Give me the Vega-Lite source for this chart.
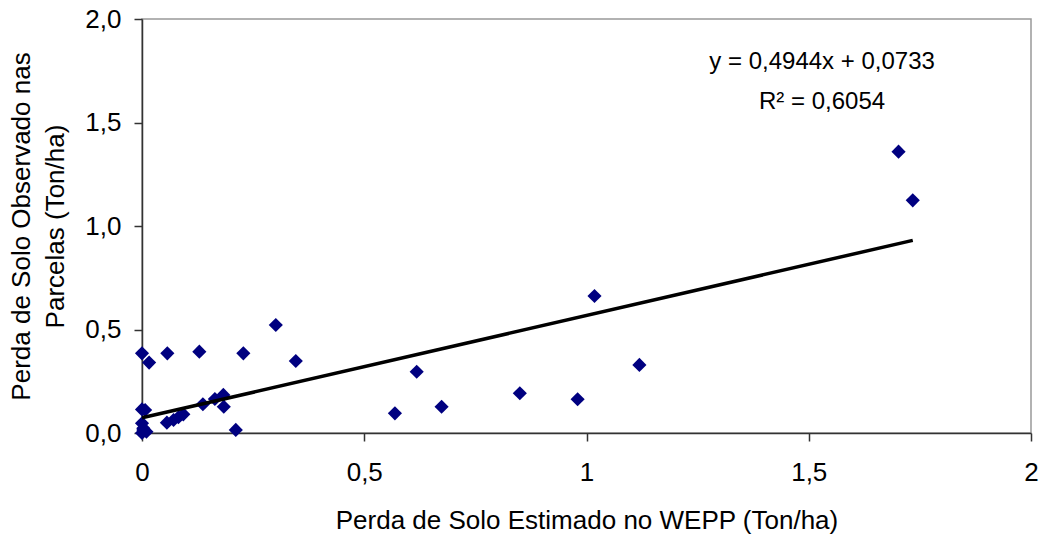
{
  "$schema": "https://vega.github.io/schema/vega-lite/v6.json",
  "autosize": "none",
  "width": 889,
  "height": 414,
  "padding": {"left": 142, "top": 19, "right": 9, "bottom": 103},
  "background": "white",
  "config": {
    "font": "Liberation Sans",
    "view": {"stroke": "#999999", "strokeWidth": 1.5},
    "axis": {
      "grid": false,
      "labelFlush": false,
      "labelOverlap": false,
      "domainColor": "#333333",
      "domainWidth": 1.5,
      "tickColor": "#333333",
      "tickWidth": 1.5,
      "tickSize": 8,
      "labelFont": "Liberation Sans",
      "labelFontSize": 26,
      "labelColor": "#000000",
      "titleFont": "Liberation Sans",
      "titleFontSize": 26,
      "titleFontWeight": "normal",
      "titleColor": "#000000"
    }
  },
  "layer": [
    {
      "data": {
        "values": [
          {"est": 0, "obs": 0.385}, {"est": 0.016, "obs": 0.34}, {"est": 0.057, "obs": 0.385},
          {"est": 0.129, "obs": 0.393}, {"est": 0.228, "obs": 0.385}, {"est": 0.301, "obs": 0.522},
          {"est": 0.346, "obs": 0.348}, {"est": 0.618, "obs": 0.296}, {"est": 0.569, "obs": 0.095},
          {"est": 0.674, "obs": 0.127}, {"est": 0.85, "obs": 0.192}, {"est": 0.98, "obs": 0.163},
          {"est": 1.018, "obs": 0.662}, {"est": 1.119, "obs": 0.329}, {"est": 1.702, "obs": 1.359},
          {"est": 1.734, "obs": 1.124}, {"est": 0, "obs": 0.114}, {"est": 0.007, "obs": 0.111},
          {"est": 0, "obs": 0.047}, {"est": 0.003, "obs": 0.014}, {"est": 0.01, "obs": 0.006},
          {"est": 0, "obs": 0}, {"est": 0.003, "obs": 0.023}, {"est": 0.056, "obs": 0.05},
          {"est": 0.071, "obs": 0.063}, {"est": 0.082, "obs": 0.076}, {"est": 0.093, "obs": 0.09},
          {"est": 0.137, "obs": 0.139}, {"est": 0.164, "obs": 0.164}, {"est": 0.183, "obs": 0.184},
          {"est": 0.184, "obs": 0.127}, {"est": 0.211, "obs": 0.015}
        ]
      },
      "mark": {"type": "point", "shape": "diamond", "filled": true, "color": "#000080", "opacity": 1, "size": 200},
      "encoding": {
        "x": {
          "field": "est", "type": "quantitative",
          "scale": {"domain": [0, 2], "nice": false, "zero": true},
          "axis": {
            "values": [0, 0.5, 1, 1.5, 2],
            "labelExpr": "replace(format(datum.value, '~g'), '.', ',')",
            "labelPadding": 18,
            "title": "Perda de Solo Estimado no WEPP (Ton/ha)",
            "titlePadding": 22
          }
        },
        "y": {
          "field": "obs", "type": "quantitative",
          "scale": {"domain": [0, 2], "nice": false, "zero": true},
          "axis": {
            "values": [0, 0.5, 1, 1.5, 2],
            "labelExpr": "replace(format(datum.value, '.1f'), '.', ',')",
            "labelPadding": 13,
            "title": ["Perda de Solo Observado nas", "Parcelas (Ton/ha)"],
            "titlePadding": 16,
            "titleLineHeight": 34
          }
        }
      }
    },
    {
      "data": {"values": [{"est": 0, "obs": 0.0733}, {"est": 1.734, "obs": 0.9306}]},
      "mark": {"type": "line", "color": "#000000", "strokeWidth": 3.5},
      "encoding": {
        "x": {"field": "est", "type": "quantitative"},
        "y": {"field": "obs", "type": "quantitative"}
      }
    },
    {
      "data": {"values": [
        {"est": 1.53, "obs": 1.79, "label": "y = 0,4944x + 0,0733"},
        {"est": 1.53, "obs": 1.60, "label": "R² = 0,6054"}
      ]},
      "mark": {"type": "text", "fontSize": 24, "font": "Liberation Sans", "color": "#000000", "align": "center", "baseline": "middle"},
      "encoding": {
        "x": {"field": "est", "type": "quantitative"},
        "y": {"field": "obs", "type": "quantitative"},
        "text": {"field": "label"}
      }
    }
  ]
}
